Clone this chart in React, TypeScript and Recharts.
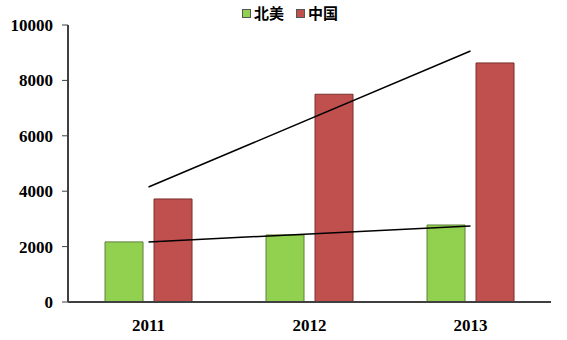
import React from "react";
import { ComposedChart, Bar, Line, XAxis, YAxis } from "recharts";

const categories = ["2011", "2012", "2013"];
const seriesNames = ["北美", "中国"];
const seriesColors = ["#92D050", "#C0504D"];
const northAmerica = [2170, 2420, 2780];
const china = [3720, 7500, 8630];
// hand-drawn trend lines in the original, from the first year to the last
const northAmericaTrend = [2170, null, 2740];
const chinaTrend = [4150, null, 9060];
const yTicks = [0, 2000, 4000, 6000, 8000, 10000];

const data = categories.map((year, i) => ({
  year,
  na: northAmerica[i],
  cn: china[i],
  naTrend: northAmericaTrend[i],
  cnTrend: chinaTrend[i],
}));

const NUM_FONT = "'Liberation Serif', 'Times New Roman', serif";
const CJK_FONT = "'Noto Sans CJK SC', sans-serif";

function TopLegend() {
  return (
    <div
      style={{
        position: "absolute",
        top: 4,
        left: 242,
        display: "flex",
        alignItems: "center",
      }}
    >
      {seriesNames.map((name, i) => (
        <div key={name} style={{ display: "flex", alignItems: "center", marginRight: i === 0 ? 12 : 0 }}>
          <span
            style={{
              display: "inline-block",
              width: 7,
              height: 7,
              background: seriesColors[i],
              border: "1px solid #555",
              marginRight: 3,
            }}
          />
          <span style={{ fontFamily: CJK_FONT, fontWeight: 700, fontSize: 15, color: "#000", lineHeight: "18px" }}>
            {name}
          </span>
        </div>
      ))}
    </div>
  );
}

export default function App() {
  return (
    <div style={{ position: "absolute", left: 0, top: 0, width: 567, height: 340, background: "#fff" }}>
      <ComposedChart
        width={567}
        height={340}
        data={data}
        margin={{ top: 25, right: 16, bottom: 8, left: 0 }}
        barCategoryGap="23%"
        barGap={11}
      >
        <XAxis
          dataKey="year"
          height={30}
          axisLine={{ stroke: "#404040", strokeWidth: 2 }}
          tickLine={false}
          tickMargin={11}
          tick={{ fill: "#000", fontFamily: NUM_FONT, fontWeight: 700, fontSize: 17 }}
        />
        <YAxis
          width={68}
          domain={[0, 10000]}
          ticks={yTicks}
          axisLine={{ stroke: "#404040", strokeWidth: 2 }}
          tickLine={{ stroke: "#404040" }}
          tickSize={6}
          tickMargin={9}
          tick={{ fill: "#000", fontFamily: NUM_FONT, fontWeight: 700, fontSize: 17 }}
        />
        <Bar dataKey="na" name={seriesNames[0]} fill={seriesColors[0]} stroke="#5f7f38" strokeWidth={1} isAnimationActive={false} />
        <Bar dataKey="cn" name={seriesNames[1]} fill={seriesColors[1]} stroke="#7a2f2d" strokeWidth={1} isAnimationActive={false} />
        <Line dataKey="naTrend" stroke="#000" strokeWidth={1.5} dot={false} connectNulls isAnimationActive={false} />
        <Line dataKey="cnTrend" stroke="#000" strokeWidth={1.5} dot={false} connectNulls isAnimationActive={false} />
      </ComposedChart>
      <TopLegend />
    </div>
  );
}
